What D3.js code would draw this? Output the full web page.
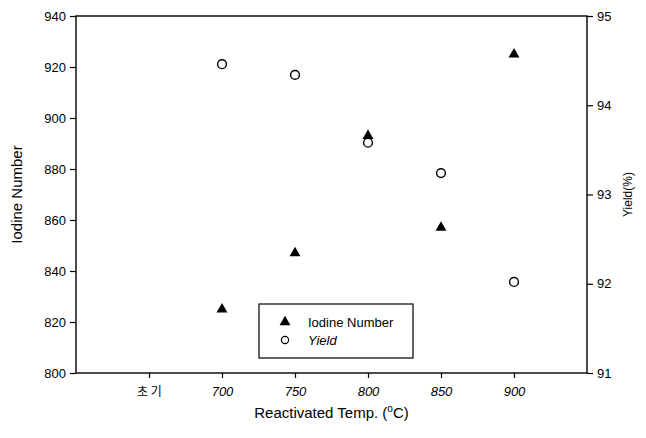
<!DOCTYPE html>
<html>
<head>
<meta charset="utf-8">
<script src="https://cdn.jsdelivr.net/npm/d3@7"></script>
<style>
  body { margin: 0; background: #fff; }
  svg { font-family: "Liberation Sans", Arial, sans-serif; }
</style>
</head>
<body>
<svg id="chart" width="646" height="438"></svg>
<script>
// x categories (index position on a linear axis)
var categories = ["초 기", "700", "750", "800", "850", "900"];
var iodineX = ["700", "750", "800", "850", "900"];
var iodineNumber = [825, 847, 893, 857, 925];
var yieldX = ["700", "750", "800", "850", "900"];
var yieldPct = [94.46, 94.34, 93.58, 93.24, 92.02];
var leftTicks = [800, 820, 840, 860, 880, 900, 920, 940];
var rightTicks = [91, 92, 93, 94, 95];

var svg = d3.select("#chart");
var plotL = 76, plotR = 587, plotT = 16, plotB = 373;

var x = d3.scaleLinear().domain([-1, 6]).range([plotL, plotR]);
var yL = d3.scaleLinear().domain([800, 940]).range([plotB, plotT]);
var yR = d3.scaleLinear().domain([91, 95]).range([plotB, plotT]);

function xPos(c) { return x(categories.indexOf(c)); }

// frame
svg.append("rect")
   .attr("x", plotL).attr("y", plotT)
   .attr("width", plotR - plotL).attr("height", plotB - plotT)
   .attr("fill", "none").attr("stroke", "#000").attr("stroke-width", 1.4);

// left axis
var gL = svg.append("g").attr("transform", "translate(" + plotL + ",0)")
  .call(d3.axisLeft(yL).tickValues(leftTicks).tickSize(6).tickPadding(4));
// right axis
var gR = svg.append("g").attr("transform", "translate(" + plotR + ",0)")
  .call(d3.axisRight(yR).tickValues(rightTicks).tickFormat(d3.format("d"))
          .tickSize(6).tickPadding(4));
// bottom axis
var gB = svg.append("g").attr("transform", "translate(0," + plotB + ")")
  .call(d3.axisBottom(x).tickValues(d3.range(categories.length))
          .tickFormat(function (i) { return categories[i]; })
          .tickSize(5).tickPadding(9));

[gL, gR, gB].forEach(function (g) {
  g.select(".domain").remove();
  g.selectAll("line").attr("stroke", "#000").attr("stroke-width", 1.2);
  g.selectAll("text").attr("fill", "#000").style("font-size", "13px");
});
gB.selectAll("text").style("font-style", function (i) { return i == 0 ? "normal" : "italic"; })
  .style("font-size", function (i) { return i == 0 ? "12px" : "13px"; })
  .style("font-family", function (i) { return i == 0 ? "'Noto Sans CJK KR', sans-serif" : null; });

// axis titles
svg.append("text")
   .attr("transform", "translate(22," + ((plotT + plotB) / 2) + ") rotate(-90)")
   .attr("text-anchor", "middle")
   .style("font-size", "15px").attr("fill", "#000")
   .text("Iodine Number");

svg.append("text")
   .attr("transform", "translate(632," + ((plotT + plotB) / 2) + ") rotate(-90)")
   .attr("text-anchor", "middle")
   .style("font-size", "12px").attr("fill", "#000")
   .text("Yield(%)");

var xt = svg.append("text")
   .attr("x", (plotL + plotR) / 2).attr("y", 418)
   .attr("text-anchor", "middle")
   .style("font-size", "15px").attr("fill", "#000");
xt.append("tspan").text("Reactivated Temp. (");
xt.append("tspan").attr("dy", -6).style("font-size", "10px").text("o");
xt.append("tspan").attr("dy", 6).text("C)");

// marks
var tri = d3.symbol().type(d3.symbolTriangle).size(52);

svg.append("g").selectAll("path")
   .data(iodineNumber)
   .enter()
   .append("path")
   .attr("d", tri)
   .attr("transform", function (d, i) { return "translate(" + xPos(iodineX[i]) + "," + yL(d) + ")"; })
   .attr("fill", "#000");

svg.append("g").selectAll("circle")
   .data(yieldPct)
   .enter()
   .append("circle")
   .attr("cx", function (d, i) { return xPos(yieldX[i]); })
   .attr("cy", function (d) { return yR(d); })
   .attr("r", 4.4)
   .attr("fill", "#fff")
   .attr("stroke", "#000")
   .attr("stroke-width", 1.4);

// legend
var lg = svg.append("g");
lg.append("rect")
  .attr("x", 259).attr("y", 304).attr("width", 154).attr("height", 54)
  .attr("fill", "#fff").attr("stroke", "#000").attr("stroke-width", 1.2);
lg.append("path").attr("d", tri)
  .attr("transform", "translate(285,322)").attr("fill", "#000");
lg.append("circle").attr("cx", 285).attr("cy", 340).attr("r", 3.6)
  .attr("fill", "#fff").attr("stroke", "#000").attr("stroke-width", 1.2);
lg.append("text").attr("x", 308).attr("y", 327)
  .style("font-size", "13px").attr("fill", "#000").text("Iodine Number");
lg.append("text").attr("x", 308).attr("y", 345)
  .style("font-size", "13px").style("font-style", "italic").attr("fill", "#000").text("Yield");
</script>
</body>
</html>
